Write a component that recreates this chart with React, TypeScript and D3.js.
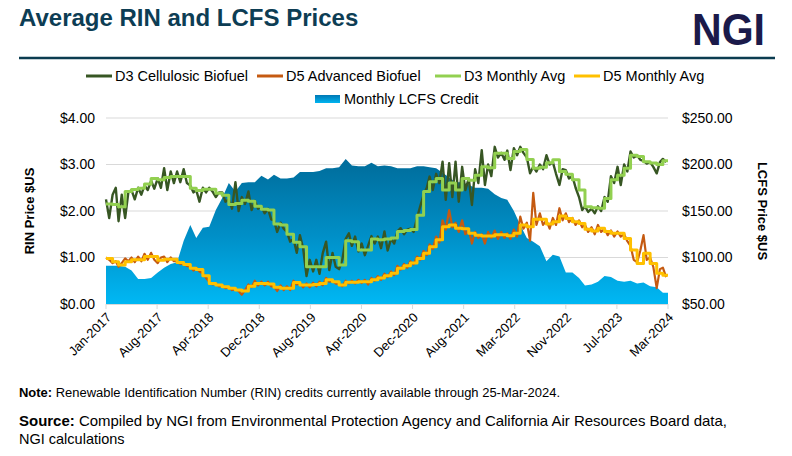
import React from "react";
import * as d3 from "d3";

const W = 792;
const H = 456;
const START = new Date(2017, 0, 1);
const END = new Date(2024, 2, 25);

const tickLabels = ["Jan-2017", "Aug-2017", "Apr-2018", "Dec-2018", "Aug-2019", "Apr-2020", "Dec-2020", "Aug-2021", "Mar-2022", "Nov-2022", "Jul-2023", "Mar-2024"];
const rinTicks = [0, 1, 2, 3, 4];
const lcfsTicks = [50, 100, 150, 200, 250];

// Monthly LCFS credit price ($/t), Jan-2017 .. Mar-2024
const lcfsMonthly = [
  91, 91, 91, 90, 86, 77, 77, 78, 84, 89, 93, 95,
  118, 135, 121, 132, 133, 151, 164, 180, 171, 180, 181, 181,
  188, 184, 189, 185, 185, 186, 192, 192, 192, 193, 196, 196,
  197, 206, 199, 198, 198, 202, 198, 199, 198, 196, 196, 196,
  198, 198, 197, 196, 191, 186, 181, 181, 178, 175, 175, 174,
  168, 164, 162, 150, 135, 121, 117, 112, 96, 103, 101, 84,
  84, 78, 70, 71, 74, 80, 79, 75, 74, 75, 72, 73,
  69, 68, 62,
];

// D3 monthly average RIN price
const d3MonthlyAvg = [
  2.15, 2.14, 2.09, 2.42, 2.46, 2.49, 2.58, 2.70, 2.67, 2.72, 2.74, 2.74,
  2.74, 2.49, 2.44, 2.47, 2.47, 2.38, 2.34, 2.14, 2.16, 2.23, 2.21, 2.10,
  2.04, 2.02, 1.72, 1.70, 1.50, 1.33, 1.23, 0.80, 0.80, 0.80, 1.00, 1.00,
  0.84, 1.36, 1.34, 1.16, 1.16, 1.40, 1.38, 1.40, 1.42, 1.56, 1.58, 1.60,
  1.91, 2.42, 2.63, 2.70, 2.45, 2.60, 2.45, 2.70, 2.66, 2.77, 2.95, 2.93,
  3.24, 3.24, 3.13, 3.28, 3.32, 3.11, 2.92, 2.94, 3.04, 3.10, 2.85, 2.79,
  2.67, 2.45, 2.09, 2.07, 2.06, 2.27, 2.67, 2.77, 2.92, 3.20, 3.17, 3.06,
  3.03, 3.00, 3.08,
];

// D5 monthly average RIN price
const d5MonthlyAvg = [
  0.98, 0.91, 0.84, 0.91, 0.95, 0.95, 1.02, 1.02, 0.94, 0.96, 0.96, 0.89,
  0.85, 0.77, 0.74, 0.61, 0.44, 0.41, 0.37, 0.34, 0.30, 0.28, 0.38, 0.44,
  0.44, 0.43, 0.36, 0.34, 0.34, 0.46, 0.41, 0.41, 0.42, 0.44, 0.52, 0.48,
  0.41, 0.47, 0.47, 0.48, 0.48, 0.52, 0.56, 0.61, 0.66, 0.77, 0.82, 0.88,
  0.98, 1.09, 1.23, 1.38, 1.66, 1.70, 1.63, 1.62, 1.52, 1.48, 1.46, 1.46,
  1.49, 1.49, 1.47, 1.52, 1.70, 1.66, 1.82, 1.82, 1.72, 1.77, 1.89, 1.84,
  1.77, 1.73, 1.61, 1.57, 1.63, 1.56, 1.52, 1.52, 1.41, 1.16, 0.87, 1.09,
  0.87, 0.66, 0.62,
];

// D3 cellulosic biofuel RIN price, two readings per month (1st, 16th)
const d3Daily = [
  2.25, 1.85, 2.35, 2.50, 1.78, 2.35, 1.85, 2.40, 2.45, 2.25, 2.50, 2.35,
  2.55, 2.45, 2.65, 2.48, 2.70, 2.50, 2.92, 2.45, 2.85, 2.60, 2.85, 2.62,
  2.90, 2.60, 2.55, 2.40, 2.45, 2.20, 2.50, 2.40, 2.50, 2.42, 2.30, 2.40,
  2.40, 2.20, 2.25, 2.05, 2.62, 2.00, 2.30, 2.15, 2.42, 2.02, 2.22, 2.05,
  2.10, 1.95, 2.05, 1.82, 1.80, 1.55, 1.75, 1.62, 1.55, 1.34, 1.40, 1.10,
  1.48, 1.20, 0.60, 0.95, 0.70, 0.95, 0.65, 1.09, 1.34, 0.73, 1.10, 0.80,
  0.75, 0.95, 1.40, 1.52, 1.25, 1.45, 1.13, 1.30, 1.05, 1.25, 1.46, 1.30,
  1.45, 1.20, 1.56, 1.15, 1.40, 1.30, 1.56, 1.63, 1.50, 1.60, 1.62, 1.55,
  1.85, 2.10, 2.35, 2.50, 2.74, 2.45, 2.80, 2.60, 3.06, 2.24, 3.03, 2.30,
  3.06, 2.20, 2.95, 2.45, 2.70, 2.13, 2.90, 2.60, 3.31, 2.56, 3.00, 2.75,
  3.38, 3.15, 3.25, 3.10, 3.30, 2.88, 3.35, 3.20, 3.38, 3.25, 3.15, 2.81,
  2.95, 2.85, 3.00, 2.90, 3.20, 3.00, 3.05, 2.80, 2.56, 2.90, 2.88, 2.70,
  2.75, 2.50, 2.30, 2.02, 2.10, 1.98, 2.05, 1.95, 2.10, 2.00, 2.30, 2.20,
  2.75, 2.60, 2.95, 2.56, 3.00, 2.85, 3.28, 3.15, 3.20, 3.10, 3.08, 3.02,
  3.05, 2.95, 2.81, 3.05, 3.12, 3.05,
];

// D5 advanced biofuel RIN price, two readings per month (1st, 16th)
const d5Daily = [
  1.00, 0.95, 0.88, 0.92, 0.80, 0.88, 0.98, 0.92, 1.00, 0.90, 1.02, 0.92,
  1.08, 0.95, 1.10, 0.95, 0.88, 1.00, 1.02, 0.90, 1.00, 0.92, 0.92, 0.86,
  0.88, 0.82, 0.80, 0.72, 0.78, 0.70, 0.66, 0.56, 0.48, 0.42, 0.44, 0.38,
  0.40, 0.34, 0.36, 0.30, 0.32, 0.28, 0.20, 0.30, 0.42, 0.36, 0.50, 0.40,
  0.48, 0.40, 0.48, 0.38, 0.38, 0.28, 0.40, 0.30, 0.38, 0.30, 0.50, 0.42,
  0.45, 0.36, 0.44, 0.36, 0.46, 0.38, 0.48, 0.40, 0.56, 0.48, 0.50, 0.44,
  0.44, 0.38, 0.50, 0.44, 0.50, 0.44, 0.52, 0.45, 0.52, 0.42, 0.56, 0.50,
  0.60, 0.52, 0.65, 0.58, 0.70, 0.62, 0.82, 0.74, 0.86, 0.78, 0.92, 0.85,
  1.02, 0.95, 1.14, 1.05, 1.28, 1.18, 1.45, 1.32, 1.80, 1.60, 2.02, 1.65,
  1.75, 1.55, 1.80, 1.50, 1.60, 1.30, 1.55, 1.42, 1.50, 1.30, 1.55, 1.42,
  1.58, 1.40, 1.55, 1.42, 1.52, 1.40, 1.60, 1.45, 1.88, 1.62, 1.75, 1.36,
  2.39, 1.70, 1.95, 1.70, 1.80, 1.62, 1.85, 1.70, 2.06, 1.80, 1.95, 1.76,
  1.85, 1.70, 1.80, 1.65, 1.70, 1.55, 1.65, 1.50, 1.70, 1.55, 1.62, 1.48,
  1.58, 1.45, 1.56, 1.45, 1.50, 1.35, 1.25, 0.95, 0.90, 1.15, 1.48, 0.95,
  1.00, 0.80, 0.34, 0.75, 0.78, 0.58,
];

const FONT = "'Liberation Sans', Arial, sans-serif";
const C_D3 = "#375623";
const C_D5 = "#C55A11";
const C_D3AVG = "#92D050";
const C_D5AVG = "#FFC000";

export default function App() {
  const L = 106, R = 668, T = 118, B = 304;
  const x = d3.scaleTime().domain([START, END]).range([L, R]);
  const yL = d3.scaleLinear().domain([0, 4]).range([B, T]);
  const yR = d3.scaleLinear().domain([50, 250]).range([B, T]);

  const months = d3.timeMonth.range(START, new Date(2024, 3, 1));
  const halfMonths = months.flatMap((m) => [m, d3.timeDay.offset(m, 15)]);

  const lcfsData = lcfsMonthly.map((v, i) => ({ date: months[i], v }));
  // hold the latest monthly value to the end of the axis
  lcfsData.push({ date: END, v: lcfsMonthly[lcfsMonthly.length - 1] });
  const area = d3
    .area<{ date: Date; v: number }>()
    .x((d) => x(d.date))
    .y0(B)
    .y1((d) => yR(d.v));

  const dailyLine = d3
    .line<{ date: Date; v: number }>()
    .x((d) => x(d.date))
    .y((d) => yL(d.v));

  const stepPts = (vals: number[]) =>
    vals.flatMap((v, i) => [
      { date: months[i], v },
      { date: i + 1 < months.length ? months[i + 1] : END, v },
    ]);

  const d3d = d3Daily.map((v, i) => ({ date: halfMonths[i], v }));
  const d5d = d5Daily.map((v, i) => ({ date: halfMonths[i], v }));

  const span = +END - +START;
  const tickDates = tickLabels.map((_, i) => new Date(+START + (i * span) / (tickLabels.length - 1)));

  const legend1 = [
    { label: "D3 Cellulosic Biofuel", color: C_D3, x: 86 },
    { label: "D5 Advanced Biofuel", color: C_D5, x: 257 },
    { label: "D3 Monthly Avg", color: C_D3AVG, x: 435 },
    { label: "D5 Monthly Avg", color: C_D5AVG, x: 574 },
  ];

  return (
    <svg
      width={W}
      height={H}
      viewBox={`0 0 ${W} ${H}`}
      style={{ position: "fixed", left: 0, top: 0, background: "#fff" }}
      fontFamily={FONT}
    >
      <defs>
        <linearGradient id="lcfsGrad" gradientUnits="userSpaceOnUse" x1="0" y1={yR(210)} x2="0" y2={B}>
          <stop offset="0%" stopColor="#006A98" />
          <stop offset="55%" stopColor="#0090C8" />
          <stop offset="100%" stopColor="#00B8F4" />
        </linearGradient>
        <linearGradient id="legGrad" x1="0" y1="0" x2="0" y2="1">
          <stop offset="0%" stopColor="#0078B4" />
          <stop offset="100%" stopColor="#00B4F0" />
        </linearGradient>
      </defs>
      <rect x={0} y={0} width={W} height={H} fill="#fff" />

      {/* Title */}
      <text x={19} y={26} fontSize={24} fontWeight="bold" fill="#0D3D54">
        Average RIN and LCFS Prices
      </text>
      <text x={692} y={45} fontSize={44} fontWeight="bold" fill="#1B1A4A" textLength={73} lengthAdjust="spacingAndGlyphs">
        NGI
      </text>
      <line x1={19} x2={775} y1={58} y2={58} stroke="#0B3C50" strokeWidth={2.3} />

      {/* Legend */}
      {legend1.map((d) => (
        <g key={d.label}>
          <line x1={d.x} x2={d.x + 26} y1={76} y2={76} stroke={d.color} strokeWidth={3} />
          <text x={d.x + 29} y={81} fontSize={14.5} fill="#000">
            {d.label}
          </text>
        </g>
      ))}
      <rect x={315} y={95} width={25} height={8} fill="url(#legGrad)" />
      <text x={344} y={104} fontSize={14.5} fill="#000">
        Monthly LCFS Credit
      </text>

      {/* Gridlines */}
      {rinTicks.map((t) => (
        <line key={t} x1={L} x2={R} y1={yL(t)} y2={yL(t)} stroke="#D9D9D9" strokeWidth={1} />
      ))}

      {/* LCFS area */}
      <path d={area(lcfsData) || ""} fill="url(#lcfsGrad)" />

      {/* RIN lines */}
      <path d={dailyLine(d3d) || ""} fill="none" stroke={C_D3} strokeWidth={2.4} strokeLinejoin="round" />
      <path d={dailyLine(d5d) || ""} fill="none" stroke={C_D5} strokeWidth={2.2} strokeLinejoin="round" />
      <path d={dailyLine(stepPts(d3MonthlyAvg)) || ""} fill="none" stroke={C_D3AVG} strokeWidth={3} strokeLinejoin="round" />
      <path d={dailyLine(stepPts(d5MonthlyAvg)) || ""} fill="none" stroke={C_D5AVG} strokeWidth={3} strokeLinejoin="round" />

      {/* X axis */}
      <line x1={L} x2={R} y1={B + 0.5} y2={B + 0.5} stroke="#D9D9D9" strokeWidth={1} />
      {tickDates.map((d, i) => (
        <g key={i} transform={`translate(${x(d)},0)`}>
          <line x1={0} x2={0} y1={B} y2={B + 5} stroke="#D9D9D9" />
          <text
            transform={`translate(3,315) rotate(-45)`}
            textAnchor="end"
            dy="0.35em"
            fontSize={13}
            fill="#000"
          >
            {tickLabels[i]}
          </text>
        </g>
      ))}

      {/* Y axes */}
      {rinTicks.map((t) => (
        <text key={t} x={95} y={yL(t)} dy="0.35em" textAnchor="end" fontSize={14} fill="#000">
          {`$${t.toFixed(2)}`}
        </text>
      ))}
      {lcfsTicks.map((t) => (
        <text key={t} x={682} y={yR(t)} dy="0.35em" textAnchor="start" fontSize={14} fill="#000">
          {`$${t.toFixed(2)}`}
        </text>
      ))}
      <text transform={`translate(34,211) rotate(-90)`} textAnchor="middle" fontSize={13} fontWeight="bold" fill="#000">
        RIN Price $US
      </text>
      <text transform={`translate(758,211) rotate(90)`} textAnchor="middle" fontSize={13} fontWeight="bold" fill="#000">
        LCFS Price $US
      </text>

      {/* Footer */}
      <text x={19} y={396.5} fontSize={12.5} fill="#000" textLength={541} lengthAdjust="spacingAndGlyphs">
        <tspan fontWeight="bold">Note:</tspan> Renewable Identification Number (RIN) credits currently available through 25-Mar-2024.
      </text>
      <text x={19} y={426} fontSize={14.5} fill="#000" textLength={708} lengthAdjust="spacingAndGlyphs">
        <tspan fontWeight="bold">Source:</tspan> Compiled by NGI from Environmental Protection Agency and California Air Resources Board data,
      </text>
      <text x={19} y={443.5} fontSize={14.5} fill="#000">
        NGI calculations
      </text>
    </svg>
  );
}
